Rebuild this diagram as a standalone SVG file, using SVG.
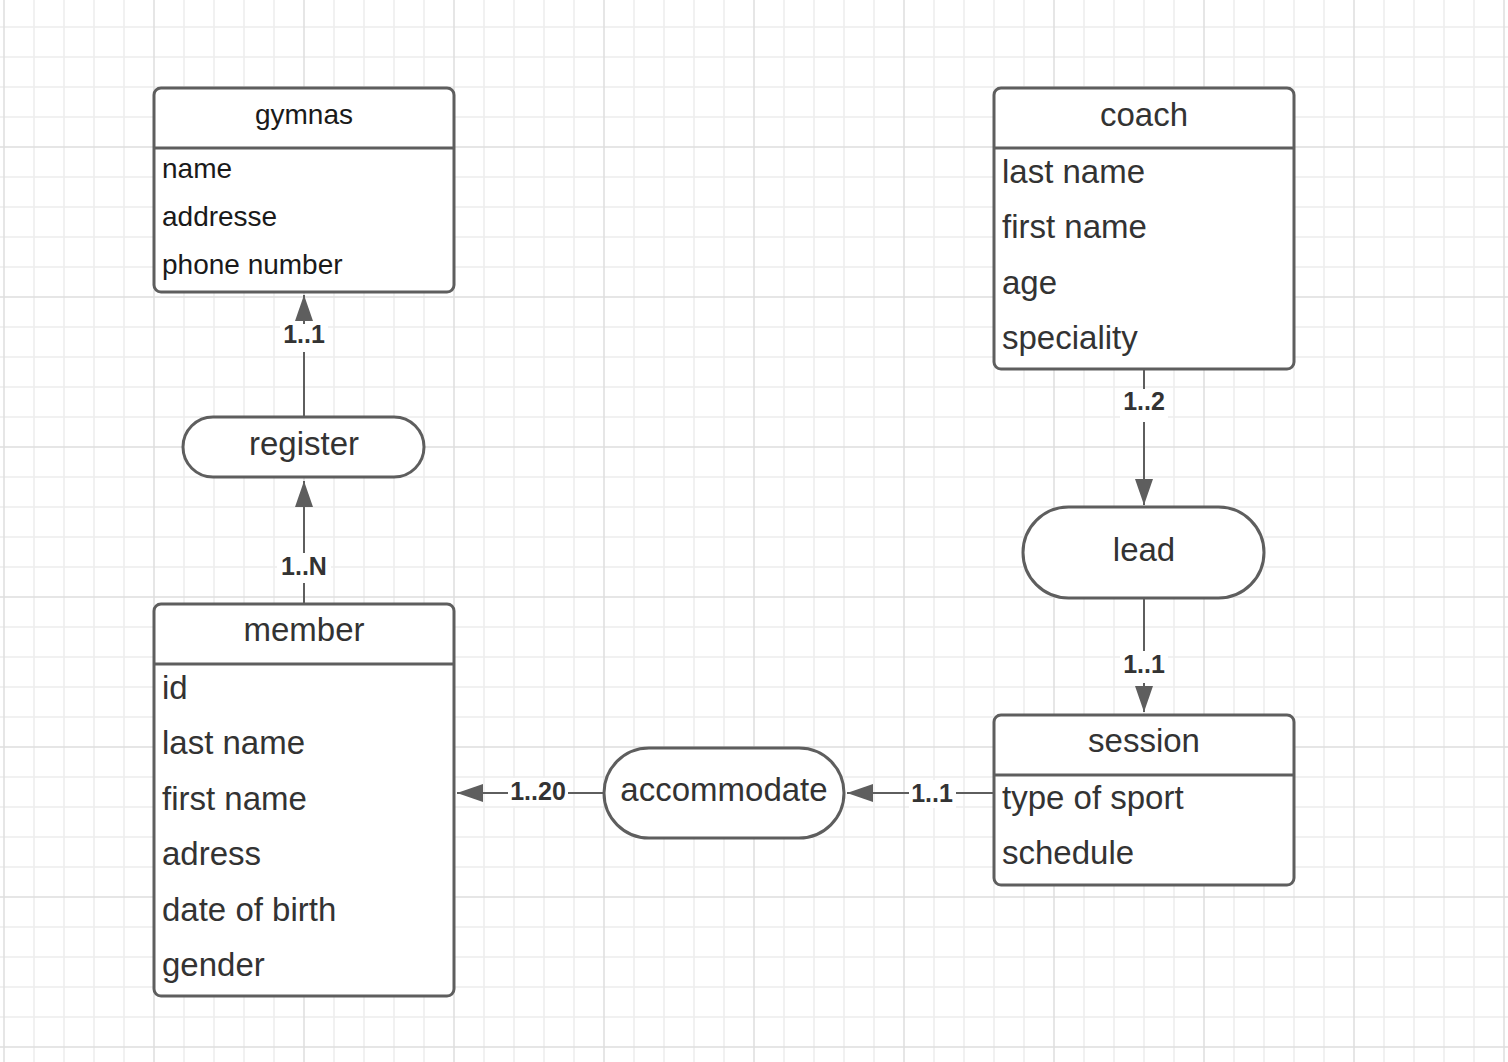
<svg xmlns="http://www.w3.org/2000/svg" width="1508" height="1062" viewBox="0 0 1508 1062">
  <defs>
    <pattern id="grid" patternUnits="userSpaceOnUse" x="4" y="-3" width="150" height="150">
      <g stroke="#ededed" stroke-width="1.5" fill="none">
        <path d="M30,0V150M60,0V150M90,0V150M120,0V150M0,30H150M0,60H150M0,90H150M0,120H150"/>
      </g>
      <g stroke="#dedede" stroke-width="1.5" fill="none">
        <path d="M0,0V150M150,0V150M0,0H150M0,150H150"/>
      </g>
    </pattern>
    <marker id="arr" viewBox="0 0 26 18" refX="26" refY="9" markerWidth="26" markerHeight="18" markerUnits="userSpaceOnUse" orient="auto">
      <path d="M0,0 L26,9 L0,18 Z" fill="#5e5e5e"/>
    </marker>
  </defs>
  <style>
    .box { fill: #ffffff; stroke: #5e5e5e; stroke-width: 3; }
    .sep { stroke: #5e5e5e; stroke-width: 3; fill: none; }
    .txt { font-family: "Liberation Sans", Arial, sans-serif; font-size: 33px; fill: #333333; }
    .small { font-family: "Liberation Sans", Arial, sans-serif; font-size: 28px; fill: #1a1a1a; }
    .mid { text-anchor: middle; }
    .edge { stroke: #5e5e5e; stroke-width: 2; fill: none; marker-end: url(#arr); }
    .lblbg { fill: #ffffff; }
    .lbl { font-family: "Liberation Sans", Arial, sans-serif; font-size: 25px; font-weight: bold; fill: #333333; text-anchor: middle; }
  </style>
  <rect width="1508" height="1062" fill="#ffffff"/>
  <rect width="1508" height="1062" fill="url(#grid)"/>

  <g id="connectors">
    <path class="edge" d="M304,604 L304,481"/>
    <path class="edge" d="M304,417 L304,295"/>
    <path class="edge" d="M1144,369 L1144,505"/>
    <path class="edge" d="M1144,598 L1144,712"/>
    <path class="edge" d="M994,793 L847,793"/>
    <path class="edge" d="M604,793 L457,793"/>
    <rect class="lblbg" x="280" y="324" width="48" height="28"/>
    <text class="lbl" x="304" y="343">1..1</text>
    <rect class="lblbg" x="277" y="553" width="54" height="30"/>
    <text class="lbl" x="304" y="575">1..N</text>
    <rect class="lblbg" x="1120" y="389" width="48" height="33"/>
    <text class="lbl" x="1144" y="410">1..2</text>
    <rect class="lblbg" x="1120" y="651" width="48" height="32"/>
    <text class="lbl" x="1144" y="673">1..1</text>
    <rect class="lblbg" x="508" y="778" width="60" height="28"/>
    <text class="lbl" x="538" y="800">1..20</text>
    <rect class="lblbg" x="909" y="780" width="47" height="28"/>
    <text class="lbl" x="932" y="802">1..1</text>
  </g>

  <g id="gymnas">
    <rect class="box" x="154" y="88" width="300" height="204" rx="7"/>
    <path class="sep" d="M154,148 H454"/>
    <text class="small mid" x="304" y="124">gymnas</text>
    <text class="small" x="162" y="178">name</text>
    <text class="small" x="162" y="226">addresse</text>
    <text class="small" x="162" y="274">phone number</text>
  </g>

  <g id="coach">
    <rect class="box" x="994" y="88" width="300" height="281" rx="7"/>
    <path class="sep" d="M994,148 H1294"/>
    <text class="txt mid" x="1144" y="126">coach</text>
    <text class="txt" x="1002" y="183">last name</text>
    <text class="txt" x="1002" y="238">first name</text>
    <text class="txt" x="1002" y="294">age</text>
    <text class="txt" x="1002" y="349">speciality</text>
  </g>

  <g id="register">
    <rect class="box" x="183" y="417" width="241" height="60" rx="30"/>
    <text class="txt mid" x="304" y="455">register</text>
  </g>

  <g id="lead">
    <rect class="box" x="1023" y="507" width="241" height="91" rx="45.5"/>
    <text class="txt mid" x="1144" y="561">lead</text>
  </g>

  <g id="member">
    <rect class="box" x="154" y="604" width="300" height="392" rx="7"/>
    <path class="sep" d="M154,664 H454"/>
    <text class="txt mid" x="304" y="641">member</text>
    <text class="txt" x="162" y="699">id</text>
    <text class="txt" x="162" y="754">last name</text>
    <text class="txt" x="162" y="810">first name</text>
    <text class="txt" x="162" y="865">adress</text>
    <text class="txt" x="162" y="921">date of birth</text>
    <text class="txt" x="162" y="976">gender</text>
  </g>

  <g id="accommodate">
    <rect class="box" x="604" y="748" width="240" height="90" rx="45"/>
    <text class="txt mid" x="724" y="801">accommodate</text>
  </g>

  <g id="session">
    <rect class="box" x="994" y="715" width="300" height="170" rx="7"/>
    <path class="sep" d="M994,775 H1294"/>
    <text class="txt mid" x="1144" y="752">session</text>
    <text class="txt" x="1002" y="809">type of sport</text>
    <text class="txt" x="1002" y="864">schedule</text>
  </g>
</svg>
